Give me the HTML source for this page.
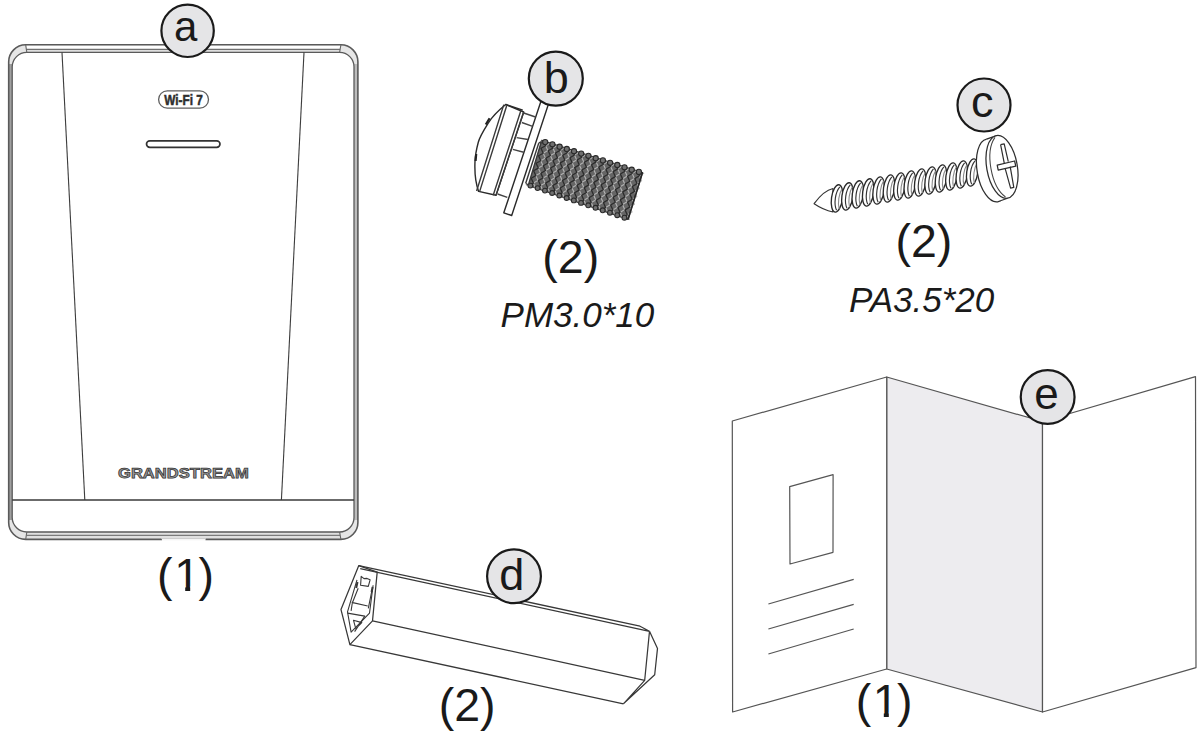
<!DOCTYPE html>
<html><head><meta charset="utf-8">
<style>
html,body{margin:0;padding:0;background:#fff;width:1200px;height:739px;overflow:hidden}
svg{display:block}
text{font-family:"Liberation Sans",sans-serif}
</style></head>
<body>
<svg width="1200" height="739" viewBox="0 0 1200 739">
<rect width="1200" height="739" fill="#fff"/>

<!-- ================= DEVICE (a) ================= -->
<g id="device" fill="none">
  <!-- band fill -->
  <path fill-rule="evenodd" fill="#e6e6e6" stroke="none" d="M8.7 62 A17 17 0 0 1 25.7 44.8 L340.9 44.8 A17 17 0 0 1 357.9 62 L357.9 522 A17 17 0 0 1 340.9 539.4 L25.7 539.4 A17 17 0 0 1 8.7 522 Z M12.2 66.8 A14.6 14.6 0 0 1 26.8 52.4 L339.6 52.4 A14.4 14.4 0 0 1 354 66.8 L354 517.6 A14.4 14.4 0 0 1 339.6 532 L26.8 532 A14.6 14.6 0 0 1 12.2 517.6 Z"/>
  <rect x="8.7" y="64" width="3.5" height="456" fill="#a0a0a0"/>
  <rect x="354" y="64" width="3.9" height="456" fill="#bcbcbc"/>
  <rect x="26" y="45.5" width="315" height="3.8" fill="#fff"/>
  <rect x="26" y="49.3" width="315" height="3.1" fill="#dedede"/>
  <rect x="26" y="532" width="315" height="7" fill="#e0e0e0"/>
  <!-- outer -->
  <path d="M8.7 62 A17 17 0 0 1 25.7 44.8 L340.9 44.8 A17 17 0 0 1 357.9 62 L357.9 522 A17 17 0 0 1 340.9 539.4 L25.7 539.4 A17 17 0 0 1 8.7 522 Z" stroke="#5a5a5a" stroke-width="1.6"/>
  <!-- inner -->
  <path d="M12.2 66.8 A14.6 14.6 0 0 1 26.8 52.4 L339.6 52.4 A14.4 14.4 0 0 1 354 66.8 L354 517.6 A14.4 14.4 0 0 1 339.6 532 L26.8 532 A14.6 14.6 0 0 1 12.2 517.6 Z" stroke="#5a5a5a" stroke-width="1.3"/>
  <line x1="26.5" y1="49.3" x2="340" y2="49.3" stroke="#707070" stroke-width="1.2"/>
  <line x1="26.5" y1="535.4" x2="340" y2="535.4" stroke="#7a7a7a" stroke-width="1.2"/>
  <rect x="162" y="538.3" width="43.5" height="2.6" fill="#fff"/>
  <line x1="161" y1="538.7" x2="206" y2="538.7" stroke="#c8c8c8" stroke-width="1"/>
  <!-- corner caps -->
  <path d="M25.7 44.8 L26.8 52.4 M340.9 44.8 L339.6 52.4 M25.7 539.4 L26.8 532 M340.9 539.4 L339.6 532" stroke="#666" stroke-width="1.1"/>
  <!-- diagonals -->
  <line x1="62" y1="52.4" x2="84.8" y2="500" stroke="#3c3c3c" stroke-width="1.1"/>
  <line x1="304" y1="52.4" x2="281.4" y2="500" stroke="#3c3c3c" stroke-width="1.1"/>
  <!-- separator -->
  <line x1="12.2" y1="500" x2="354" y2="500" stroke="#3a3a3a" stroke-width="1.6"/>
  <!-- wifi badge -->
  <rect x="158.6" y="90.8" width="49.9" height="17.4" rx="8.7" stroke="#5e5e5e" stroke-width="1.3"/>
  <text x="164.3" y="104.8" font-size="13.8" font-weight="bold" fill="#2e2e2e" stroke="#2e2e2e" stroke-width="0.5" textLength="38.5" lengthAdjust="spacingAndGlyphs">Wi-Fi 7</text>
  <!-- LED slot -->
  <rect x="146.5" y="140.8" width="73.5" height="6.6" rx="3.3" stroke="#333" stroke-width="1.7"/>
  <!-- brand -->
  <text x="118" y="477.6" font-size="14.8" font-weight="bold" fill="#9a9a9a" stroke="#333" stroke-width="0.75" textLength="130.7" lengthAdjust="spacingAndGlyphs">GRANDSTREAM</text>
</g>

<!-- ================= SCREW b ================= -->
<g id="screwb" fill="none" stroke="#2a2a2a" stroke-width="1.4" stroke-linejoin="round">
  <!-- thread body -->
<path d="M541.6 140.3 L642.5 172.5 L628.0 219.5 L526.8 185.0 Z" fill="#666" stroke="#333" stroke-width="1.2"/>
<path d="M550.3 143.1 L545.7 145.7 L547.9 150.6 L543.2 153.2 L545.4 158.1 L540.8 160.7 L542.9 165.5 L538.3 168.1 L540.5 173.0 L535.8 175.6 L538.0 180.5 L533.4 183.1 L535.5 187.9 M557.5 145.4 L552.9 148.1 L555.1 152.9 L550.4 155.5 L552.6 160.4 L548.0 163.0 L550.2 167.9 L545.5 170.5 L547.7 175.4 L543.0 178.0 L545.2 182.9 L540.6 185.5 L542.8 190.4 M564.8 147.7 L560.1 150.4 L562.3 155.2 L557.6 157.9 L559.8 162.8 L555.2 165.4 L557.4 170.3 L552.7 172.9 L554.9 177.8 L550.3 180.4 L552.5 185.3 L547.8 188.0 L550.0 192.8 M572.0 150.0 L567.3 152.7 L569.5 157.6 L564.9 160.2 L567.1 165.1 L562.4 167.8 L564.6 172.7 L559.9 175.3 L562.1 180.2 L557.5 182.9 L559.7 187.7 L555.0 190.4 L557.2 195.3 M579.2 152.3 L574.5 155.0 L576.7 159.9 L572.1 162.6 L574.3 167.5 L569.6 170.1 L571.8 175.0 L567.2 177.7 L569.4 182.6 L564.7 185.3 L566.9 190.2 L562.3 192.9 L564.5 197.8 M586.4 154.6 L581.7 157.3 L583.9 162.2 L579.3 164.9 L581.5 169.8 L576.8 172.5 L579.0 177.4 L574.4 180.1 L576.6 185.0 L571.9 187.7 L574.1 192.6 L569.5 195.3 L571.7 200.2 M593.6 156.9 L588.9 159.6 L591.1 164.5 L586.5 167.2 L588.7 172.2 L584.1 174.9 L586.3 179.8 L581.6 182.5 L583.8 187.4 L579.2 190.1 L581.4 195.0 L576.7 197.8 L578.9 202.7 M600.8 159.2 L596.1 161.9 L598.4 166.8 L593.7 169.6 L595.9 174.5 L591.3 177.2 L593.5 182.2 L588.8 184.9 L591.0 189.8 L586.4 192.5 L588.6 197.5 L583.9 200.2 L586.2 205.1 M608.0 161.5 L603.4 164.2 L605.6 169.2 L600.9 171.9 L603.1 176.8 L598.5 179.6 L600.7 184.5 L596.0 187.3 L598.3 192.2 L593.6 195.0 L595.8 199.9 L591.2 202.6 L593.4 207.6 M615.2 163.8 L610.6 166.5 L612.8 171.5 L608.1 174.3 L610.4 179.2 L605.7 182.0 L607.9 186.9 L603.3 189.7 L605.5 194.6 L600.8 197.4 L603.1 202.3 L598.4 205.1 L600.6 210.0 M622.4 166.1 L617.8 168.9 L620.0 173.8 L615.3 176.6 L617.6 181.5 L612.9 184.3 L615.1 189.3 L610.5 192.1 L612.7 197.0 L608.1 199.8 L610.3 204.8 L605.6 207.5 L607.9 212.5 M629.6 168.4 L625.0 171.2 L627.2 176.1 L622.6 178.9 L624.8 183.9 L620.1 186.7 L622.4 191.7 L617.7 194.5 L619.9 199.4 L615.3 202.2 L617.5 207.2 L612.9 210.0 L615.1 214.9 M636.8 170.7 L632.2 173.5 L634.4 178.4 L629.8 181.3 L632.0 186.2 L627.4 189.1 L629.6 194.0 L624.9 196.9 L627.2 201.8 L622.5 204.6 L624.7 209.6 L620.1 212.4 L622.3 217.4 M644.1 172.9 L639.4 175.8 L641.6 180.8 L637.0 183.6 L639.2 188.6 L634.6 191.4 L636.8 196.4 L632.2 199.3 L634.4 204.2 L629.7 207.1 L632.0 212.0 L627.3 214.9 L629.5 219.9" fill="none" stroke="#b2b2b2" stroke-width="1.15"/>
<path d="M543.5 140.9 L545.7 145.7 L541.0 148.3 L543.2 153.2 L538.6 155.8 L540.8 160.7 L536.1 163.3 L538.3 168.1 L533.6 170.7 L535.8 175.6 L531.2 178.2 L533.4 183.1 L528.7 185.7 M550.7 143.2 L552.9 148.1 L548.2 150.7 L550.4 155.5 L545.8 158.2 L548.0 163.0 L543.3 165.7 L545.5 170.5 L540.9 173.2 L543.0 178.0 L538.4 180.6 L540.6 185.5 L535.9 188.1 M557.9 145.5 L560.1 150.4 L555.4 153.0 L557.6 157.9 L553.0 160.5 L555.2 165.4 L550.5 168.0 L552.7 172.9 L548.1 175.6 L550.3 180.4 L545.6 183.1 L547.8 188.0 L543.2 190.6 M565.1 147.8 L567.3 152.7 L562.7 155.3 L564.9 160.2 L560.2 162.9 L562.4 167.8 L557.8 170.4 L559.9 175.3 L555.3 178.0 L557.5 182.9 L552.8 185.5 L555.0 190.4 L550.4 193.1 M572.3 150.1 L574.5 155.0 L569.9 157.7 L572.1 162.6 L567.4 165.2 L569.6 170.1 L565.0 172.8 L567.2 177.7 L562.5 180.4 L564.7 185.3 L560.1 188.0 L562.3 192.9 L557.6 195.5 M579.5 152.4 L581.7 157.3 L577.1 160.0 L579.3 164.9 L574.6 167.6 L576.8 172.5 L572.2 175.2 L574.4 180.1 L569.7 182.8 L571.9 187.7 L567.3 190.4 L569.5 195.3 L564.8 198.0 M586.7 154.7 L588.9 159.6 L584.3 162.3 L586.5 167.2 L581.8 170.0 L584.1 174.9 L579.4 177.6 L581.6 182.5 L577.0 185.2 L579.2 190.1 L574.5 192.8 L576.7 197.8 L572.1 200.5 M593.9 157.0 L596.1 161.9 L591.5 164.7 L593.7 169.6 L589.1 172.3 L591.3 177.2 L586.6 180.0 L588.8 184.9 L584.2 187.6 L586.4 192.5 L581.7 195.3 L583.9 200.2 L579.3 202.9 M601.1 159.3 L603.4 164.2 L598.7 167.0 L600.9 171.9 L596.3 174.7 L598.5 179.6 L593.8 182.4 L596.0 187.3 L591.4 190.0 L593.6 195.0 L589.0 197.7 L591.2 202.6 L586.5 205.4 M608.4 161.6 L610.6 166.5 L605.9 169.3 L608.1 174.3 L603.5 177.0 L605.7 182.0 L601.1 184.7 L603.3 189.7 L598.6 192.4 L600.8 197.4 L596.2 200.2 L598.4 205.1 L593.8 207.9 M615.6 163.9 L617.8 168.9 L613.1 171.6 L615.3 176.6 L610.7 179.4 L612.9 184.3 L608.3 187.1 L610.5 192.1 L605.8 194.9 L608.1 199.8 L603.4 202.6 L605.6 207.5 L601.0 210.3 M622.8 166.2 L625.0 171.2 L620.3 174.0 L622.6 178.9 L617.9 181.7 L620.1 186.7 L615.5 189.5 L617.7 194.5 L613.1 197.3 L615.3 202.2 L610.6 205.0 L612.9 210.0 L608.2 212.8 M630.0 168.5 L632.2 173.5 L627.5 176.3 L629.8 181.3 L625.1 184.1 L627.4 189.1 L622.7 191.9 L624.9 196.9 L620.3 199.7 L622.5 204.6 L617.9 207.5 L620.1 212.4 L615.4 215.3 M637.2 170.8 L639.4 175.8 L634.8 178.6 L637.0 183.6 L632.3 186.5 L634.6 191.4 L629.9 194.3 L632.2 199.3 L627.5 202.1 L629.7 207.1 L625.1 209.9 L627.3 214.9 L622.7 217.7" fill="none" stroke="#2c2c2c" stroke-width="1.3"/>
<circle cx="545.2" cy="142.1" r="2.6" fill="#707070" stroke="#2a2a2a" stroke-width="1.1"/>
<circle cx="530.4" cy="185.6" r="2.4" fill="#707070" stroke="#2a2a2a" stroke-width="1.1"/>
<circle cx="552.4" cy="144.3" r="2.6" fill="#707070" stroke="#2a2a2a" stroke-width="1.1"/>
<circle cx="537.6" cy="188.1" r="2.4" fill="#707070" stroke="#2a2a2a" stroke-width="1.1"/>
<circle cx="559.6" cy="146.7" r="2.6" fill="#707070" stroke="#2a2a2a" stroke-width="1.1"/>
<circle cx="544.9" cy="190.6" r="2.4" fill="#707070" stroke="#2a2a2a" stroke-width="1.1"/>
<circle cx="566.8" cy="149.0" r="2.6" fill="#707070" stroke="#2a2a2a" stroke-width="1.1"/>
<circle cx="552.1" cy="193.0" r="2.4" fill="#707070" stroke="#2a2a2a" stroke-width="1.1"/>
<circle cx="574.0" cy="151.2" r="2.6" fill="#707070" stroke="#2a2a2a" stroke-width="1.1"/>
<circle cx="559.3" cy="195.5" r="2.4" fill="#707070" stroke="#2a2a2a" stroke-width="1.1"/>
<circle cx="581.2" cy="153.6" r="2.6" fill="#707070" stroke="#2a2a2a" stroke-width="1.1"/>
<circle cx="566.6" cy="198.0" r="2.4" fill="#707070" stroke="#2a2a2a" stroke-width="1.1"/>
<circle cx="588.4" cy="155.8" r="2.6" fill="#707070" stroke="#2a2a2a" stroke-width="1.1"/>
<circle cx="573.8" cy="200.4" r="2.4" fill="#707070" stroke="#2a2a2a" stroke-width="1.1"/>
<circle cx="595.7" cy="158.2" r="2.6" fill="#707070" stroke="#2a2a2a" stroke-width="1.1"/>
<circle cx="581.0" cy="202.9" r="2.4" fill="#707070" stroke="#2a2a2a" stroke-width="1.1"/>
<circle cx="602.9" cy="160.4" r="2.6" fill="#707070" stroke="#2a2a2a" stroke-width="1.1"/>
<circle cx="588.2" cy="205.3" r="2.4" fill="#707070" stroke="#2a2a2a" stroke-width="1.1"/>
<circle cx="610.1" cy="162.8" r="2.6" fill="#707070" stroke="#2a2a2a" stroke-width="1.1"/>
<circle cx="595.5" cy="207.8" r="2.4" fill="#707070" stroke="#2a2a2a" stroke-width="1.1"/>
<circle cx="617.3" cy="165.0" r="2.6" fill="#707070" stroke="#2a2a2a" stroke-width="1.1"/>
<circle cx="602.7" cy="210.3" r="2.4" fill="#707070" stroke="#2a2a2a" stroke-width="1.1"/>
<circle cx="624.5" cy="167.3" r="2.6" fill="#707070" stroke="#2a2a2a" stroke-width="1.1"/>
<circle cx="609.9" cy="212.7" r="2.4" fill="#707070" stroke="#2a2a2a" stroke-width="1.1"/>
<circle cx="631.7" cy="169.7" r="2.6" fill="#707070" stroke="#2a2a2a" stroke-width="1.1"/>
<circle cx="617.2" cy="215.2" r="2.4" fill="#707070" stroke="#2a2a2a" stroke-width="1.1"/>
<circle cx="638.9" cy="171.9" r="2.6" fill="#707070" stroke="#2a2a2a" stroke-width="1.1"/>
<circle cx="624.4" cy="217.7" r="2.4" fill="#707070" stroke="#2a2a2a" stroke-width="1.1"/>
<path d="M642.5 172.5 L628.0 219.5" stroke="#262626" stroke-width="1.6" fill="none"/>
  <!-- collar -->
  <path d="M536 142.5 L541.6 140.6 L528.2 185.2 L521.8 185 Z" fill="#fff" stroke="none"/>
  <path d="M538.7 143.2 L525.7 183.3 M541.4 141.5 L528.4 185 M538.7 143.2 L541.4 141.5 M525.7 183.3 L528.4 185" stroke="#3a3a3a"/>
  <!-- washer -->
  <path d="M542.7 96 L550.3 98.5 L511.7 215.5 L503.8 212.8 Z" fill="#fff"/>
  <!-- head -->
  <path d="M505.7 104.5 C499 110 492 117 488.7 122.5 C484 130 480 136 478.3 142.3 C476.5 149 475.3 155 475 161.3 C474.6 170 475.5 183 478.6 191.4 L496 195.2 L523.7 112 Z" fill="#fff"/>
  <path d="M503.8 104.6 L476.6 191 M506.6 106 L479.6 191.6" stroke="#3a3a3a"/>
  <path d="M520.9 110.5 L493.2 195.2 M523.7 112 L496 195.6" stroke="#3a3a3a"/>
  <path d="M505.7 104.5 L522.8 110.2" />
  <!-- flange -->
  <path d="M523.7 113 L535.5 117 M521.8 122.5 L532.7 126.3 M516.6 137.6 L528 139.5 M512.8 149.4 L523.7 152.3 M497.6 194 L507.3 197.4" stroke="#444"/>
  <!-- dome marks -->
  <path d="M489.6 118.2 L485.8 124.5 M476.2 154 L475.6 161" stroke="#222" stroke-width="2.2"/>
</g>

<!-- ================= SCREW c ================= -->
<g id="screwc" fill="none" stroke="#333" stroke-width="1.1" stroke-linejoin="round">
<path d="M833 188.5 C826 190 819 197 814.1 203.7 C819 207 826 210.5 833 212 Z" fill="#fff" stroke="#333" stroke-width="1.15"/>
<g transform="translate(837.0 198.4) rotate(8)"><ellipse cx="0" cy="0" rx="5.5" ry="13.8" fill="#fff" stroke="#2a2a2a" stroke-width="1.35"/><path d="M1.2 -11.8 C-2.6 -6 -2.6 6 1.2 11.8" fill="none" stroke="#333" stroke-width="1.15"/><path d="M3.6 -10.3 C1.2 -5 1.2 5 3.6 10.3" fill="none" stroke="#8a8a8a" stroke-width="1.1"/></g>
<g transform="translate(847.4 196.4) rotate(8)"><ellipse cx="0" cy="0" rx="5.5" ry="13.8" fill="#fff" stroke="#2a2a2a" stroke-width="1.35"/><path d="M1.2 -11.8 C-2.6 -6 -2.6 6 1.2 11.8" fill="none" stroke="#333" stroke-width="1.15"/><path d="M3.6 -10.3 C1.2 -5 1.2 5 3.6 10.3" fill="none" stroke="#8a8a8a" stroke-width="1.1"/></g>
<g transform="translate(857.8 194.4) rotate(8)"><ellipse cx="0" cy="0" rx="5.5" ry="13.8" fill="#fff" stroke="#2a2a2a" stroke-width="1.35"/><path d="M1.2 -11.8 C-2.6 -6 -2.6 6 1.2 11.8" fill="none" stroke="#333" stroke-width="1.15"/><path d="M3.6 -10.3 C1.2 -5 1.2 5 3.6 10.3" fill="none" stroke="#8a8a8a" stroke-width="1.1"/></g>
<g transform="translate(868.2 192.4) rotate(8)"><ellipse cx="0" cy="0" rx="5.5" ry="13.8" fill="#fff" stroke="#2a2a2a" stroke-width="1.35"/><path d="M1.2 -11.8 C-2.6 -6 -2.6 6 1.2 11.8" fill="none" stroke="#333" stroke-width="1.15"/><path d="M3.6 -10.3 C1.2 -5 1.2 5 3.6 10.3" fill="none" stroke="#8a8a8a" stroke-width="1.1"/></g>
<g transform="translate(878.6 190.5) rotate(8)"><ellipse cx="0" cy="0" rx="5.5" ry="13.8" fill="#fff" stroke="#2a2a2a" stroke-width="1.35"/><path d="M1.2 -11.8 C-2.6 -6 -2.6 6 1.2 11.8" fill="none" stroke="#333" stroke-width="1.15"/><path d="M3.6 -10.3 C1.2 -5 1.2 5 3.6 10.3" fill="none" stroke="#8a8a8a" stroke-width="1.1"/></g>
<g transform="translate(889.0 188.5) rotate(8)"><ellipse cx="0" cy="0" rx="5.5" ry="13.8" fill="#fff" stroke="#2a2a2a" stroke-width="1.35"/><path d="M1.2 -11.8 C-2.6 -6 -2.6 6 1.2 11.8" fill="none" stroke="#333" stroke-width="1.15"/><path d="M3.6 -10.3 C1.2 -5 1.2 5 3.6 10.3" fill="none" stroke="#8a8a8a" stroke-width="1.1"/></g>
<g transform="translate(899.4 186.5) rotate(8)"><ellipse cx="0" cy="0" rx="5.5" ry="13.8" fill="#fff" stroke="#2a2a2a" stroke-width="1.35"/><path d="M1.2 -11.8 C-2.6 -6 -2.6 6 1.2 11.8" fill="none" stroke="#333" stroke-width="1.15"/><path d="M3.6 -10.3 C1.2 -5 1.2 5 3.6 10.3" fill="none" stroke="#8a8a8a" stroke-width="1.1"/></g>
<g transform="translate(909.8 184.5) rotate(8)"><ellipse cx="0" cy="0" rx="5.5" ry="13.8" fill="#fff" stroke="#2a2a2a" stroke-width="1.35"/><path d="M1.2 -11.8 C-2.6 -6 -2.6 6 1.2 11.8" fill="none" stroke="#333" stroke-width="1.15"/><path d="M3.6 -10.3 C1.2 -5 1.2 5 3.6 10.3" fill="none" stroke="#8a8a8a" stroke-width="1.1"/></g>
<g transform="translate(920.2 182.5) rotate(8)"><ellipse cx="0" cy="0" rx="5.5" ry="13.8" fill="#fff" stroke="#2a2a2a" stroke-width="1.35"/><path d="M1.2 -11.8 C-2.6 -6 -2.6 6 1.2 11.8" fill="none" stroke="#333" stroke-width="1.15"/><path d="M3.6 -10.3 C1.2 -5 1.2 5 3.6 10.3" fill="none" stroke="#8a8a8a" stroke-width="1.1"/></g>
<g transform="translate(930.6 180.5) rotate(8)"><ellipse cx="0" cy="0" rx="5.5" ry="13.8" fill="#fff" stroke="#2a2a2a" stroke-width="1.35"/><path d="M1.2 -11.8 C-2.6 -6 -2.6 6 1.2 11.8" fill="none" stroke="#333" stroke-width="1.15"/><path d="M3.6 -10.3 C1.2 -5 1.2 5 3.6 10.3" fill="none" stroke="#8a8a8a" stroke-width="1.1"/></g>
<g transform="translate(941.0 178.5) rotate(8)"><ellipse cx="0" cy="0" rx="5.5" ry="13.8" fill="#fff" stroke="#2a2a2a" stroke-width="1.35"/><path d="M1.2 -11.8 C-2.6 -6 -2.6 6 1.2 11.8" fill="none" stroke="#333" stroke-width="1.15"/><path d="M3.6 -10.3 C1.2 -5 1.2 5 3.6 10.3" fill="none" stroke="#8a8a8a" stroke-width="1.1"/></g>
<g transform="translate(951.4 176.5) rotate(8)"><ellipse cx="0" cy="0" rx="5.5" ry="13.8" fill="#fff" stroke="#2a2a2a" stroke-width="1.35"/><path d="M1.2 -11.8 C-2.6 -6 -2.6 6 1.2 11.8" fill="none" stroke="#333" stroke-width="1.15"/><path d="M3.6 -10.3 C1.2 -5 1.2 5 3.6 10.3" fill="none" stroke="#8a8a8a" stroke-width="1.1"/></g>
<g transform="translate(961.8 174.5) rotate(8)"><ellipse cx="0" cy="0" rx="5.5" ry="13.8" fill="#fff" stroke="#2a2a2a" stroke-width="1.35"/><path d="M1.2 -11.8 C-2.6 -6 -2.6 6 1.2 11.8" fill="none" stroke="#333" stroke-width="1.15"/><path d="M3.6 -10.3 C1.2 -5 1.2 5 3.6 10.3" fill="none" stroke="#8a8a8a" stroke-width="1.1"/></g>
<g transform="translate(972.2 172.5) rotate(8)"><ellipse cx="0" cy="0" rx="5.5" ry="13.8" fill="#fff" stroke="#2a2a2a" stroke-width="1.35"/><path d="M1.2 -11.8 C-2.6 -6 -2.6 6 1.2 11.8" fill="none" stroke="#333" stroke-width="1.15"/><path d="M3.6 -10.3 C1.2 -5 1.2 5 3.6 10.3" fill="none" stroke="#8a8a8a" stroke-width="1.1"/></g>
<g transform="rotate(-10 997 169)"><ellipse cx="992" cy="169.6" rx="15" ry="31.8" fill="#fff" stroke="#2e2e2e" stroke-width="1.25"/><rect x="992" y="137.2" width="10.3" height="64" fill="#fff" stroke="none"/><path d="M992 137.8 L1002.3 136 M992 201.4 L1002.3 199.6" stroke="#2e2e2e" stroke-width="1.25"/><ellipse cx="1002.3" cy="167.8" rx="15.3" ry="31.8" fill="#fff" stroke="#2e2e2e" stroke-width="1.25"/><path d="M1000.5 137.5 C988 150 988 185 1000.5 198" fill="none" stroke="#444" stroke-width="1.05"/></g>
<path d="M997.2 165.2 L1014.6 161 L1015.8 166.2 L998.2 170.2 Z" fill="#fff" stroke="#2e2e2e" stroke-width="1.25"/>
<path d="M1000.6 144.6 L1004.2 143.8 L1008.3 161.6 M1010.2 166.6 L1013.8 187.4 L1010.6 188.2 L1005.2 168.6 M1000.6 144.6 L1004.4 163.8" fill="none" stroke="#2e2e2e" stroke-width="1.2"/>
</g>

<!-- ================= ANCHOR d ================= -->
<g id="anchord" fill="none" stroke="#383838" stroke-width="1.25" stroke-linejoin="round">
  <path d="M358.8 565.6 L640 626.2 L649.5 631.2 M360.2 568.6 L649.5 631.4 M372.5 620.9 L644.7 680.3 M349.9 644.6 L623.4 703.8"/>
  <path d="M358.8 565.6 L377.2 572.1 L372.5 620.9 L349.9 644.6 L341 609.6 Z"/>
  <path d="M649.5 631.3 L657.5 648.4 L654.7 674.7 L623.4 703.8 M649.5 631.3 L644.7 680.3 L623.4 703.8"/>
  <path d="M357 579.8 L347.5 611.9 L351.1 632.2 L369.5 613.1 L373.1 585.2" stroke-width="1.1"/>
  <path d="M361.2 576.3 L364 578.6 L367 578.4 L370.1 579.8 L368.3 586.4 L360.6 585.2 Z" stroke-width="1.1"/>
  <path d="M358.2 588.2 L352.3 603 L351.1 610.8 M371.9 590.5 L368.3 608.4 M351.7 602.4 L367.7 606 M347.5 613.1 L364.8 616.1 L354.6 631.6 M353.5 620.3 L361.8 622.6 L355.8 628.6 Z" stroke-width="1.1"/>
  <path d="M357.5 582 L356.2 588 M372.6 587 L371.6 592" stroke-width="2"/>
</g>

<!-- ================= FLYER e ================= -->
<g id="flyer" stroke="#555" stroke-width="1.2" stroke-linejoin="round">
  <path d="M886.7 377 L1042.5 421.5 L1042.5 712 L886.7 669 Z" fill="#edecef"/>
  <path d="M732.3 421 L886.7 377 L886.7 669 L732.6 712 Z" fill="#fff"/>
  <path d="M1042.5 421.5 L1195.5 376.7 L1196 667.7 L1042.5 712 Z" fill="#fff"/>
  <path d="M789.7 486.6 L833.1 474.6 L833 552.3 L790 564 Z" fill="none"/>
  <path d="M768.4 604 L853.7 579.4 M768.4 629 L853.7 604.3 M768.4 654 L853.7 629" fill="none"/>
</g>

<!-- ================= LABEL CIRCLES ================= -->
<g stroke="#1a1a1a" stroke-width="2.2" fill="#e5e5e7">
  <circle cx="187.6" cy="30.8" r="26.2"/>
  <circle cx="555.8" cy="78.6" r="27"/>
  <circle cx="984" cy="105" r="26.5"/>
  <circle cx="514" cy="576.3" r="26.9"/>
  <circle cx="1047.65" cy="397.05" r="26.9"/>
</g>
<g fill="#1a1a1a" text-anchor="middle">
  <text x="185.6" y="40.6" font-size="42">a</text>
  <text x="556.3" y="92.6" font-size="45">b</text>
  <text x="982.3" y="116.6" font-size="45">c</text>
  <text x="511.8" y="590" font-size="45">d</text>
  <text x="1046.6" y="408.6" font-size="44">e</text>
</g>

<!-- ================= QTY TEXT ================= -->
<g fill="#1a1a1a" font-size="46.5">
  <text x="157.1" y="591">(<tspan dx="1.6">1</tspan><tspan dx="-1.6">)</tspan></text>
  <text x="542.3" y="272.6">(2)</text>
  <text x="895.5" y="256.8">(2)</text>
  <text x="438.7" y="721">(2)</text>
  <text x="855.7" y="717">(<tspan dx="1.6">1</tspan><tspan dx="-1.6">)</tspan></text>
</g>
<g fill="#fff">
  <rect x="176.1" y="586.6" width="9.1" height="4.6"/>
  <rect x="190.2" y="586.6" width="9" height="4.6"/>
  <rect x="874.7" y="712.6" width="9.1" height="4.6"/>
  <rect x="888.8" y="712.6" width="9" height="4.6"/>
</g>
<g fill="#1a1a1a" font-size="35" font-style="italic">
  <text x="500.6" y="326.7">PM3.0*10</text>
  <text x="849" y="311.7">PA3.5*20</text>
</g>
</svg>
</body></html>
